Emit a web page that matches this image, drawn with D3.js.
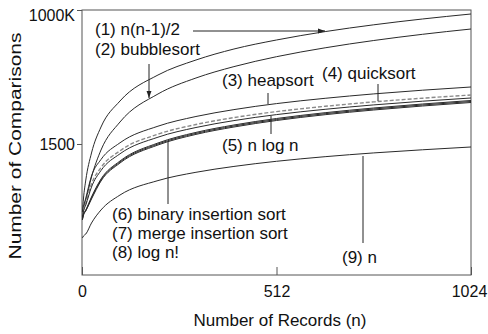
<!DOCTYPE html>
<html>
<head>
<meta charset="utf-8">
<script src="https://cdn.jsdelivr.net/npm/d3@7"></script>
<style>
  body { margin: 0; background: #fff; }
  text { font-family: "Liberation Sans", Arial, sans-serif; fill: #111; }
</style>
</head>
<body>
<figure id="chart" style="margin:0"></figure>
<script>
// number of records (x) at which the curves were read
const records = [1, 4, 10, 25, 50, 100, 200, 300, 400, 512, 640, 768, 896, 1024];

// comparisons (log scale)
const quadratic       = [55, 109, 261, 969, 3420, 12080, 42650, 88300, 150600, 233300, 350600, 487500, 645900, 823600];
const bubblesort      = [55, 70.5, 99, 302, 1120, 4360, 16980, 36900, 64100, 103700, 159700, 227600, 307300, 397700];
const heapsort        = [50, 70.5, 109, 317, 707, 1590, 3556, 5695, 7960, 10650, 13770, 17050, 20400, 23840];
const quicksort       = [45.6, 61, 85.6, 215, 479, 1078, 2413, 3864, 5400, 7223, 9342, 11570, 13840, 16170];
const nLogN           = [43.4, 58, 77.7, 186, 414, 932, 2086, 3340, 4670, 6245, 8076, 10000, 11960, 13980];
const binaryInsertion = [39.4, 50, 61, 114.6, 274, 657, 1574, 2633, 3770, 5168, 6848, 8604, 10440, 12380];
const mergeInsertion  = [38.5, 48.8, 59.5, 109.2, 261, 626, 1499, 2508, 3591, 4923, 6523, 8196, 9945, 11793];
const logFactorial    = [37.5, 47.6, 58.1, 104, 248.7, 596, 1428, 2389, 3421, 4690, 6215, 7808, 9474, 11235];
const linear          = [15.7, 17.3, 19, 32.4, 61, 126, 254, 380, 505, 648, 810, 973, 1132, 1297];

const xTicks = [0, 512, 1024];
const xTickLabels = ["0", "512", "1024"];
const yTicks = [1500, 1000000];
const yTickLabels = ["1500", "1000K"];

const series = [
  { name: "n(n-1)/2", values: quadratic },
  { name: "bubblesort", values: bubblesort },
  { name: "heapsort", values: heapsort },
  { name: "quicksort", values: quicksort, dashed: true },
  { name: "n log n", values: nLogN },
  { name: "binary insertion sort", values: binaryInsertion },
  { name: "merge insertion sort", values: mergeInsertion },
  { name: "log n!", values: logFactorial },
  { name: "n", values: linear }
];

const width = 488, height = 334;
const plotLeft = 82, plotRight = 471, plotTop = 10, plotBottom = 275;

const svg = d3.select("#chart").append("svg")
  .attr("width", width)
  .attr("height", height);

const x = d3.scaleLinear().domain([0, 1024]).range([plotLeft, plotRight]);
const y = d3.scaleLog().domain([2.6, 1000000]).range([plotBottom, plotTop]);

// frame
svg.append("rect")
  .attr("x", plotLeft).attr("y", plotTop)
  .attr("width", plotRight - plotLeft).attr("height", plotBottom - plotTop)
  .attr("fill", "none").attr("stroke", "#555").attr("stroke-width", 1);

// x axis
const gx = svg.append("g")
  .attr("transform", "translate(0," + plotBottom + ")")
  .call(d3.axisBottom(x).tickValues(xTicks).tickFormat((d, i) => xTickLabels[i])
    .tickSizeInner(-8).tickSizeOuter(0).tickPadding(11));
gx.select(".domain").remove();
gx.selectAll("line").attr("stroke", "#555");
gx.selectAll("text").style("font-size", "16px").attr("font-family", null)
  .attr("dx", d => d === 1024 ? "-2" : null);

// y axis
const gy = svg.append("g")
  .attr("transform", "translate(" + plotLeft + ",0)")
  .call(d3.axisLeft(y).tickValues(yTicks).tickFormat((d, i) => yTickLabels[i]).tickSize(5).tickPadding(2));
gy.select(".domain").remove();
gy.selectAll("line").attr("stroke", "#555");
gy.selectAll("text").style("font-size", "16px").attr("font-family", null)
  .attr("dy", d => d === 1000000 ? "0.64em" : "0.32em");

// axis titles
svg.append("text")
  .attr("x", 280).attr("y", 326)
  .attr("text-anchor", "middle")
  .style("font-size", "17px")
  .text("Number of Records (n)");

svg.append("text")
  .attr("transform", "translate(21,146) rotate(-90)")
  .attr("text-anchor", "middle")
  .attr("textLength", 227)
  .attr("lengthAdjust", "spacingAndGlyphs")
  .style("font-size", "17px")
  .text("Number of Comparisons");

// curves
const line = d3.line()
  .curve(d3.curveMonotoneX)
  .x((d, i) => x(records[i]))
  .y(d => y(d));

svg.append("g").selectAll("path")
  .data(series)
  .join("path")
  .attr("d", d => line(d.values))
  .attr("fill", "none")
  .attr("stroke", d => d.dashed ? "#8a8a8a" : "#2a2a2a")
  .attr("stroke-width", d => d.dashed ? 1.4 : 1)
  .attr("stroke-dasharray", d => d.dashed ? "4,2" : null);

// arrowhead
svg.append("defs").append("marker")
  .attr("id", "arrow")
  .attr("viewBox", "0 0 10 10")
  .attr("refX", 10).attr("refY", 5)
  .attr("markerWidth", 7).attr("markerHeight", 7)
  .attr("orient", "auto")
  .append("path")
  .attr("d", "M0,1.5L10,5L0,8.5Z")
  .attr("fill", "#222");

// labels
const labels = [
  { text: "(1) n(n-1)/2", x: 95, y: 35 },
  { text: "(2) bubblesort", x: 95, y: 55 },
  { text: "(3) heapsort", x: 222, y: 86 },
  { text: "(4) quicksort", x: 322, y: 79 },
  { text: "(5) n log n", x: 222, y: 151 },
  { text: "(6) binary insertion sort", x: 112, y: 220 },
  { text: "(7) merge insertion sort", x: 112, y: 239 },
  { text: "(8) log n!", x: 112, y: 258 },
  { text: "(9) n", x: 342, y: 263 }
];

svg.append("g").selectAll("text")
  .data(labels)
  .join("text")
  .attr("x", d => d.x).attr("y", d => d.y)
  .style("font-size", "17px")
  .text(d => d.text);

// leader lines
const leaders = [
  { x1: 193, y1: 31, x2: 325, y2: 31, arrow: true },
  { x1: 149, y1: 64, x2: 149, y2: 98, arrow: true },
  { x1: 268, y1: 93, x2: 268, y2: 104 },
  { x1: 378, y1: 84, x2: 378, y2: 101 },
  { x1: 271, y1: 134, x2: 271, y2: 116 },
  { x1: 168, y1: 204, x2: 168, y2: 141 },
  { x1: 363, y1: 243, x2: 363, y2: 156 }
];

svg.append("g").selectAll("line")
  .data(leaders)
  .join("line")
  .attr("x1", d => d.x1).attr("y1", d => d.y1)
  .attr("x2", d => d.x2).attr("y2", d => d.y2)
  .attr("stroke", "#222").attr("stroke-width", 1)
  .attr("marker-end", d => d.arrow ? "url(#arrow)" : null);
</script>
</body>
</html>
